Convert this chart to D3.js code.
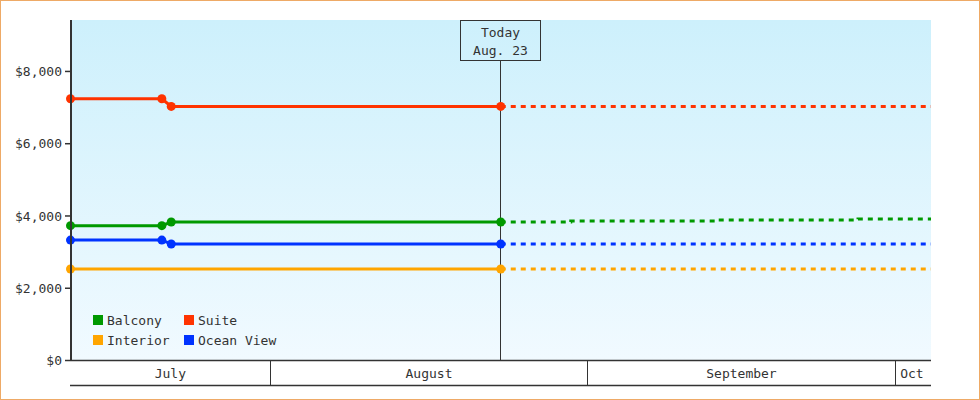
<!DOCTYPE html>
<html>
<head>
<meta charset="utf-8">
<script src="https://cdn.jsdelivr.net/npm/d3@7"></script>
<style>
  body { margin: 0; background: #fff; }
  text { font-family: "DejaVu Sans Mono", monospace; font-size: 13px; fill: #333; }
</style>
</head>
<body>
<svg id="chart"></svg>
<script>
// series
var seriesNames = ["Balcony", "Suite", "Interior", "Ocean View"];
var seriesColors = ["#009900", "#ff3300", "#ffa500", "#0033ff"];

// price history up to today (null = no point)
var historyDates = ["2023-07-12T12:00", "2023-07-21T10:00", "2023-07-22T08:00", "2023-08-23T12:00"];
var balconyHistory = [3719, 3719, 3819, 3819];
var suiteHistory = [7229, 7229, 7019, 7019];
var interiorHistory = [2519, null, null, 2519];
var oceanHistory = [3319, 3319, 3209, 3209];

// forecast after today
var forecastDates = ["2023-08-23T12:00", "2023-08-30T08:00", "2023-09-13T14:00", "2023-09-27T09:00", "2023-10-04T12:00"];
var balconyForecast = [3819, 3849, 3875, 3900, 3900];
var suiteForecast = [7019, 7019, 7019, 7019, 7019];
var interiorForecast = [2519, 2519, 2519, 2519, 2519];
var oceanForecast = [3209, 3209, 3209, 3209, 3209];

var yTicks = [0, 2000, 4000, 6000, 8000];
var monthLabels = ["July", "August", "September", "Oct"];
var todayDate = "2023-08-23T12:00";
var todayLabel = ["Today", "Aug. 23"];
var domainStart = "2023-07-12T12:00";
var domainEnd = "2023-10-04T12:00";

var params = {
    width: 980, height: 400,
    left: 71, right: 931, top: 20, bottom: 360,
    bandBottom: 385,
    axisColor: "#333",
    lineWidth: 3
};

var parse = d3.timeParse("%Y-%m-%dT%H:%M");
var histories = [balconyHistory, suiteHistory, interiorHistory, oceanHistory];
var forecasts = [balconyForecast, suiteForecast, interiorForecast, oceanForecast];

var svg = d3.select("#chart")
    .attr("width", params.width)
    .attr("height", params.height);

var x = d3.scaleTime()
    .domain([parse(domainStart), parse(domainEnd)])
    .range([params.left - 0.5, params.right]);
var y = d3.scaleLinear()
    .domain([0, 9410])
    .range([params.bottom, params.top]);

// background gradient
var defs = svg.append("defs");
var grad = defs.append("linearGradient").attr("id", "bg")
    .attr("x1", 0).attr("y1", 0).attr("x2", 0).attr("y2", 1);
grad.append("stop").attr("offset", "0%").attr("stop-color", "#cdf0fc");
grad.append("stop").attr("offset", "100%").attr("stop-color", "#f1faff");

svg.append("rect")
    .attr("x", params.left).attr("y", params.top)
    .attr("width", params.right - params.left)
    .attr("height", params.bottom - params.top)
    .attr("fill", "url(#bg)");

// today marker line + box
var tx = Math.floor(x(parse(todayDate))) + 0.5;
svg.append("line")
    .attr("x1", tx).attr("x2", tx)
    .attr("y1", 60).attr("y2", params.bottom)
    .attr("stroke", params.axisColor).attr("stroke-width", 1);
svg.append("rect")
    .attr("x", tx - 40).attr("y", 20.5)
    .attr("width", 80).attr("height", 40)
    .attr("fill", "none")
    .attr("stroke", params.axisColor).attr("stroke-width", 1);
svg.selectAll("text.today").data(todayLabel).enter()
    .append("text").attr("class", "today")
    .attr("x", tx).attr("y", function(d, i) { return 37 + i * 18; })
    .attr("text-anchor", "middle")
    .text(function(d) { return d; });

// lines
var line = d3.line()
    .defined(function(d) { return d.v != null; })
    .x(function(d) { return x(d.t); })
    .y(function(d) { return y(d.v); });
var stepLine = d3.line()
    .curve(d3.curveStepAfter)
    .x(function(d) { return x(d.t); })
    .y(function(d) { return y(d.v); });

var lines = svg.append("g");
seriesNames.forEach(function(name, s) {
    var hist = historyDates.map(function(d, i) { return { t: parse(d), v: histories[s][i] }; })
        .filter(function(d) { return d.v != null; });
    var fc = forecastDates.map(function(d, i) { return { t: parse(d), v: forecasts[s][i] }; });
    lines.append("path")
        .attr("d", stepLine(fc))
        .attr("fill", "none")
        .attr("stroke", seriesColors[s])
        .attr("stroke-width", params.lineWidth)
        .attr("stroke-dasharray", "5,5");
    lines.append("path")
        .attr("d", line(hist))
        .attr("fill", "none")
        .attr("stroke", seriesColors[s])
        .attr("stroke-width", params.lineWidth);
    lines.selectAll(null).data(hist).enter()
        .append("circle")
        .attr("cx", function(d) { return x(d.t); })
        .attr("cy", function(d) { return y(d.v); })
        .attr("r", 4.5)
        .attr("fill", seriesColors[s]);
});

// y axis
var yAxis = svg.append("g")
    .attr("transform", "translate(" + (params.left - 1) + ",0)")
    .call(d3.axisLeft(y).tickValues(yTicks).tickSize(5).tickPadding(3).tickFormat(d3.format("$,.0f")));
yAxis.select(".domain").remove();
yAxis.selectAll("line").attr("stroke", params.axisColor).attr("stroke-width", 1.5);
yAxis.selectAll("text").attr("font-family", null).attr("font-size", null).attr("fill", null)
    .attr("dy", "0.35em");
svg.append("line")
    .attr("x1", params.left).attr("x2", params.left)
    .attr("y1", params.top).attr("y2", params.bottom + 1)
    .attr("stroke", params.axisColor).attr("stroke-width", 2);

// month band
var monthStarts = d3.timeMonth.range(d3.timeMonth.floor(x.domain()[0]), x.domain()[1]);
var bands = monthStarts.map(function(m, i) {
    return {
        x0: x(d3.max([m, x.domain()[0]])),
        x1: x(d3.min([d3.timeMonth.offset(m, 1), x.domain()[1]])),
        label: monthLabels[i]
    };
});
var band = svg.append("g");
band.append("rect")
    .attr("x", params.left).attr("y", params.bottom)
    .attr("width", params.right - params.left)
    .attr("height", params.bandBottom - params.bottom)
    .attr("fill", "#fff");
[params.bottom + 0.5, params.bandBottom + 0.5].forEach(function(yy) {
    band.append("line")
        .attr("x1", params.left - 1).attr("x2", params.right)
        .attr("y1", yy).attr("y2", yy)
        .attr("stroke", params.axisColor).attr("stroke-width", 1.5);
});
band.selectAll("line.sep").data(bands.slice(1)).enter()
    .append("line").attr("class", "sep")
    .attr("x1", function(d) { return Math.floor(d.x0) + 0.5; })
    .attr("x2", function(d) { return Math.floor(d.x0) + 0.5; })
    .attr("y1", params.bottom).attr("y2", params.bandBottom)
    .attr("stroke", params.axisColor).attr("stroke-width", 1);
band.selectAll("text").data(bands).enter()
    .append("text")
    .attr("x", function(d) { return d.x1 - d.x0 < 60 ? d.x0 + 5 : (d.x0 + d.x1) / 2; })
    .attr("y", 378)
    .attr("text-anchor", function(d) { return d.x1 - d.x0 < 60 ? "start" : "middle"; })
    .text(function(d) { return d.label; });

// legend
var legend = svg.append("g");
var legendItems = legend.selectAll("g").data(seriesNames).enter()
    .append("g")
    .attr("transform", function(d, i) {
        return "translate(" + (93 + (i % 2) * 91) + "," + (315 + Math.floor(i / 2) * 20) + ")";
    });
legendItems.append("rect")
    .attr("width", 10).attr("height", 10)
    .attr("fill", function(d, i) { return seriesColors[i]; });
legendItems.append("text")
    .attr("x", 14).attr("y", 10)
    .text(function(d) { return d; });

// outer border
svg.append("rect")
    .attr("x", 0.5).attr("y", 0.5)
    .attr("width", params.width - 1).attr("height", params.height - 1)
    .attr("fill", "none")
    .attr("stroke", "#eeaa66").attr("stroke-width", 1);
</script>
</body>
</html>
